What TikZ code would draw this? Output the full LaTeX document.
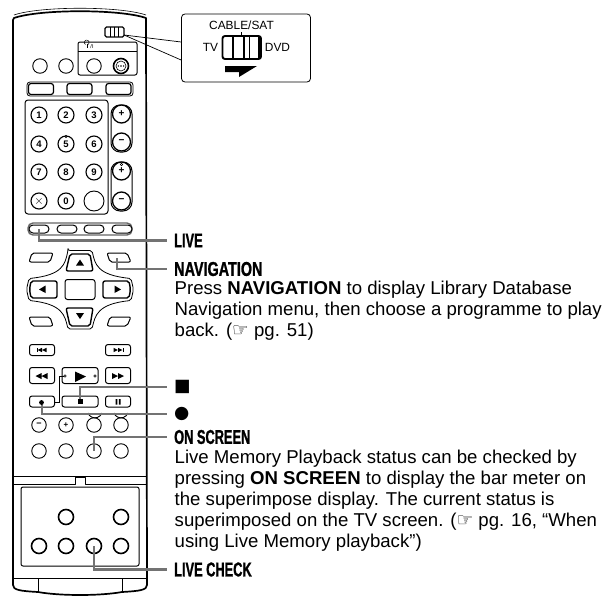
\documentclass[tikz,border=0pt]{standalone}
\usepackage{fontspec}
\setmainfont{Liberation Sans}
\newfontfamily\headf[FakeStretch=0.64,FakeBold=1.1]{Liberation Sans}
\newfontfamily\navf[FakeStretch=0.72,FakeBold=1.1]{Liberation Sans}
\newfontfamily\symf{DejaVu Sans}
\usetikzlibrary{arrows.meta}
\newcommand{\hand}{{\symf\char"261E}}
\tikzset{
 x=1pt,y=-1pt,
 ol/.style={draw=black,line width=1pt,line join=round},
 thick ol/.style={draw=black,line width=1.6pt},
 circ/.style={circle,draw=black,line width=.9pt,inner sep=0pt,minimum size=14.5pt,font=\fontsize{7}{7}\selectfont\bfseries},
 numb/.style={circ,line width=1.1pt,minimum size=16pt,font=\fontsize{9.5}{9.5}\selectfont\bfseries},
 heavy/.style={circ,line width=1.6pt,minimum size=15pt},
 btn/.style={rectangle,rounded corners=2.5pt,draw=black,line width=1pt,inner sep=0pt,minimum width=25pt,minimum height=11pt},
 pill/.style={rectangle,rounded corners=4pt,draw=black,line width=1pt,inner sep=0pt,minimum width=20pt,minimum height=8pt},
 lead/.style={draw=black!55,line width=2.3pt},
 heading/.style={anchor=west,inner xsep=7pt,inner ysep=0pt,font=\fontsize{20}{20}\headf\bfseries},
 body/.style={anchor=north west,inner sep=0pt,align=left,font=\fontsize{18.6}{21.2}\selectfont},
 small/.style={inner sep=0pt,font=\fontsize{11.9}{11.9}\selectfont},
}
\begin{document}
\begin{tikzpicture}
\useasboundingbox (0,0) rectangle (616,597);
% remote body
\draw[line width=1.7pt,line join=round] (14,18) .. controls (40,9) and (120,9) .. (146,18) -- (147,585) .. controls (147,590) and (140,591) .. (122,592) .. controls (100,596) and (60,596) .. (38,592) .. controls (20,591) and (13,590) .. (13,585) -- (13,20) -- cycle;
\draw[line width=.6pt] (14,15) .. controls (40,6) and (120,6) .. (146,15);
\draw[ol] (13,578) -- (147,578);
\draw[ol] (38,578) -- (38,592) (122,578) -- (122,592);
\draw[ol] (13,476) -- (147,476);
\draw[ol] (13,484) -- (75,484) -- (75,477) -- (85,477) -- (85,484) -- (147,484);
\draw[ol,rounded corners=2pt] (21,487) rectangle (139,566);
% mini switch
\draw[ol,line width=1.3pt,rounded corners=1.5pt] (105,27) rectangle (124,37);
\draw[line width=.9pt] (110,27)--(110,37) (114,27)--(114,37) (118,27)--(118,37);
\node[inner sep=0pt,minimum width=2pt,minimum height=2pt] (miniswitch) at (124,35) {};
% power panel
\draw[ol,rounded corners=2pt] (78,42) rectangle (137,75);
\draw[ol] (78,51) -- (137,51);
\draw[line width=.5pt] (85.5,44.5) arc (120:420:2.4);
\draw[line width=.5pt] (87,43.5) -- (87,47.5);
\node[inner sep=0pt,font=\fontsize{5.5}{5.5}\selectfont] (powlab) at (92,46.5) {/I};
\node[circ] (b1) at (40,66) {};
\node[circ] (b2) at (66,66) {};
\node[circ] (b3) at (94,66) {};
\node[heavy] (b4) at (121,66) {};
\node[circle,draw,line width=.6pt,minimum size=10pt,inner sep=0pt] (b4in) at (121,66) {};
\foreach \k in {-2.6,0,2.6} \fill (121+\k,66) circle (.8);
% top buttons
\draw[draw=black,line width=.8pt,rounded corners=3pt] (27,82) rectangle (133,96);
\foreach \n/\x in {ta/41,tb/79.5,tc/118.5} \node[btn,line width=1.2pt,fill=white] (\n) at (\x,89) {};
% number panel
\draw[ol,rounded corners=3pt] (25,100) rectangle (108,214);
\foreach \n/\x/\y/\t in {n1/39/115/1,n2/66/115/2,n3/94/115/3,n4/39/144/4,n5/66/144/5,n6/94/144/6,n7/39/172/7,n8/66/172/8,n9/94/172/9,n0/66/201/0}
  \node[numb] (\n) at (\x,\y) {\t};
\draw[line width=.6pt] (66,136.5) circle (1.2);
\node[numb] (nx) at (39,201) {\fontsize{13}{13}\selectfont\mdseries$\times$};
\node[circ,minimum size=20pt] (nb) at (94,201) {};
% volume / channel
\draw[ol,rounded corners=9pt] (111,105) rectangle (132,152);
\draw[ol,rounded corners=9pt] (111,162) rectangle (132,211);
\foreach \n/\y/\t in {vp/114/+,vm/142/\textminus,cp/171/+,cm/201/\textminus}
  \node[circ,line width=1.3pt,minimum size=18pt,font=\fontsize{10}{10}\selectfont\bfseries,fill=white] (\n) at (121.5,\y) {\t};
\draw[line width=.6pt] (121.5,164.5) circle (1.2);
% colour buttons
\draw[line width=1.4pt,rounded corners=5pt,draw=black!60] (28,223) rectangle (132,235);
\foreach \n/\x in {live/39,c2/67,c3/94,c4/122} \node[pill,fill=white] (\n) at (\x,229) {};
% corner soft keys
\draw[ol,rounded corners=2pt] (32,253) -- (53,253) -- (50,262) -- (29,262) -- cycle;
\draw[ol,rounded corners=2pt] (107,253) -- (127,253) -- (131,262) -- (110,262) -- cycle;
\draw[ol,rounded corners=2pt] (29,317) -- (50,317) -- (53,326) -- (32,326) -- cycle;
\draw[ol,rounded corners=2pt] (110,317) -- (131,317) -- (127,326) -- (107,326) -- cycle;
\coordinate (nav) at (117,258);
% cross outline
\draw[ol,line width=.8pt,rounded corners=2pt] (68,250.5) -- (92,250.5) .. controls (95,264) and (97,275) .. (131,278.5) -- (133.5,289.5) -- (131,300.5) .. controls (97,304) and (95,316) .. (92,329) -- (68,329) .. controls (65,316) and (63,304) .. (29,300.5) -- (26.5,289.5) -- (29,278.5) .. controls (63,275) and (65,264) .. (68,250.5) -- cycle;
% cross keys
\draw[ol,line width=1.4pt,rounded corners=2pt] (70,254) -- (90,254) -- (93,271) -- (66,271) -- cycle;
\fill (76,265.5) -- (84,265.5) -- (80,259.5) -- cycle;
\draw[ol,line width=1.4pt,rounded corners=2pt] (66,308) -- (93,308) -- (90,326) -- (70,326) -- cycle;
\fill (76,313) -- (84,313) -- (80,319) -- cycle;
\draw[ol,line width=1.4pt,rounded corners=2pt] (31,281) -- (57,281) -- (57,298) -- (31,298) -- (29.5,289.5) -- cycle;
\fill (45.5,285.5) -- (45.5,293) -- (39,289.5) -- cycle;
\draw[ol,line width=1.4pt,rounded corners=2pt] (103,281) -- (129,281) -- (130.5,289.5) -- (129,298) -- (103,298) -- cycle;
\fill (114.5,285.5) -- (114.5,293) -- (121,289.5) -- cycle;
\node[btn,minimum width=30pt,minimum height=20pt] (ok) at (80,289.5) {};
% transport
\node[btn] (skipl) at (42,350) {};
\node[btn] (skipr) at (118,350) {};
\node[btn,minimum height=16pt] (rew) at (42,375.5) {};
\node[btn,minimum height=16pt] (ff) at (118,375.5) {};
\node[btn,minimum width=36pt,minimum height=16pt] (play) at (80,375.5) {};
\node[btn] (rec) at (42,401.5) {};
\node[btn,minimum width=36pt] (stop) at (80,401.5) {};
\node[btn] (pause) at (118,401.5) {};
\begin{scope}
 \fill (37.5,350) -- (42,347.8) -- (42,352.2) -- cycle (42,350) -- (46.5,347.8) -- (46.5,352.2) -- cycle;
 \fill (37,347.8) rectangle (37.7,352.2);
 \fill (118,350) -- (113.5,347.8) -- (113.5,352.2) -- cycle (122.5,350) -- (118,347.8) -- (118,352.2) -- cycle;
 \fill (122.5,347.8) rectangle (123.2,352.2);
 \fill (35.5,376) -- (41.5,373) -- (41.5,379) -- cycle (41.5,376) -- (47.5,373) -- (47.5,379) -- cycle;
 \fill (118,376) -- (112,373) -- (112,379) -- cycle (124,376) -- (118,373) -- (118,379) -- cycle;
 \fill (75,371.5) -- (75,382) -- (86,376.5) -- cycle;
 \fill (115.5,399) rectangle (117.3,404.5) (118.8,399) rectangle (120.6,404.5);
\end{scope}
\draw[line width=.5pt,fill=white] (65,376) circle (1.3) (95,376) circle (1.3);
\draw[line width=.8pt] (54.5,402) -- (59,402) -- (59,376.5) -- (63.7,376.5);
\draw[line width=.9pt] (88,413) arc (160:20:7.4);
\draw[line width=.9pt] (114,413) arc (160:20:7.4);
% lower rows
\node[circ,font=\fontsize{9}{9}\selectfont\bfseries] (m1) at (39,425) {\textminus};
\node[circ,font=\fontsize{8}{8}\selectfont\bfseries] (m2) at (66,425) {+};
\node[circ] (m3) at (94,425) {};
\node[circ] (m4) at (121,425) {};
\node[circ] (s1) at (39,451) {};
\node[circ] (s2) at (66,451) {};
\node[circ] (osd) at (94,451) {};
\node[circ] (s4) at (121,451) {};
% flap buttons
\node[heavy] (f1) at (66,517) {};
\node[heavy] (f2) at (121,517) {};
\node[heavy] (f3) at (39,546) {};
\node[heavy] (f4) at (66,546) {};
\node[heavy] (check) at (94,546) {};
\node[heavy] (f6) at (121,546) {};
% labels
\node[heading] (tlive) at (167,240.5) {LIVE};
\node[heading,font=\fontsize{20}{20}\navf\bfseries] (tnav) at (167,269) {NAVIGATION};
\node[heading,font=\fontsize{17.5}{17.5}\symf] (tstop) at (167,387) {■};
\node[heading,font=\fontsize{17.5}{17.5}\symf] (trec) at (167,414) {●};
\node[heading] (tosd) at (167,437) {ON SCREEN};
\node[heading] (tcheck) at (167,569.5) {LIVE CHECK};
\node[body] (navbody) at (174.5,280.5) {Press \textbf{NAVIGATION} to display Library Database\\Navigation menu, then choose a programme to play\\back. (\hand{} pg. 51)};
\node[body] (osdbody) at (174.5,449.5) {Live Memory Playback status can be checked by\\pressing \textbf{ON SCREEN} to display the bar meter on\\the superimpose display. The current status is\\superimposed on the TV screen. (\hand{} pg. 16, “When\\using Live Memory playback”)};
% leaders
\draw[lead] (live.center) |- (tlive.west);
\draw[lead] (nav) |- (tnav.west);
\draw[lead] (stop.center) |- (tstop.west);
\draw[lead] (rec.center) |- (trec.west);
\draw[lead] (osd.center) |- (tosd.west);
\draw[lead] (check.center) |- (tcheck.west);
\fill (78,399) rectangle (83,404);
\fill (41.5,402.5) circle (2.4);
% callout
\node[rectangle,draw=black,line width=.8pt,rounded corners=3.5pt,fill=white,minimum width=129pt,minimum height=68pt,inner sep=0pt] (callout) at (246,48) {};
\draw[line width=.7pt] (miniswitch.center) -- (callout.west |- 0,42);
\draw[line width=.7pt] (miniswitch.center) -- (callout.west |- 0,60);
\node[small] (cable) at (241.5,25) {CABLE/SAT};
\node[small] (tv) at (210.5,47) {TV};
\node[small] (dvd) at (277.5,47) {DVD};
\draw[line width=1.9pt,rounded corners=2.5pt] (222.5,36) rectangle (261,59);
\draw[line width=1.1pt] (233,36)--(233,59) (244,36)--(244,59) (249.5,36)--(249.5,59) (259,36)--(259,59);
\draw[line width=1.4pt] (241.5,32) -- (241.5,36);
\fill (225,66) -- (257,66) -- (239,77) -- (239,72) -- (225,72) -- cycle;
\end{tikzpicture}
\end{document}
